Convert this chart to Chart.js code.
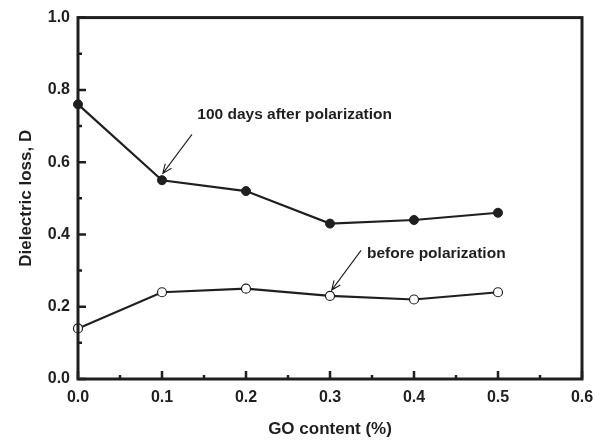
<!DOCTYPE html>
<html>
<head>
<meta charset="utf-8">
<script src="https://cdn.jsdelivr.net/npm/chart.js@4.4.1/dist/chart.umd.min.js"></script>
<style>
html,body{margin:0;padding:0;background:#fff;}
#wrap{width:606px;height:441px;}
</style>
</head>
<body>
<div id="wrap"><canvas id="c" width="606" height="441"></canvas></div>
<script>
const goContent = [0.0, 0.1, 0.2, 0.3, 0.4, 0.5];
const after100Days = [0.76, 0.55, 0.52, 0.43, 0.44, 0.46];
const beforePolarization = [0.14, 0.24, 0.25, 0.23, 0.22, 0.24];
const xMajorTicks = [0.0, 0.1, 0.2, 0.3, 0.4, 0.5, 0.6];
const xMinorTicks = [0.05, 0.15, 0.25, 0.35, 0.45, 0.55];
const yMajorTicks = [0.0, 0.2, 0.4, 0.6, 0.8, 1.0];
const yMinorTicks = [0.1, 0.3, 0.5, 0.7, 0.9];
const annotationTexts = ["100 days after polarization", "before polarization"];
const annotationAnchors = [[0.142, 0.732], [0.344, 0.348]];
const arrowFrom = [[0.1357, 0.677], [0.337, 0.356]];
const arrowTo = [[0.101, 0.569], [0.302, 0.246]];

const INK = '#1f1f1f';
const FONT = '"Liberation Sans", Arial, Helvetica, sans-serif';

const framePlugin = {
  id: 'frame',
  afterDatasetsDraw(chart) {
    const {ctx, chartArea: a, scales: {x, y}} = chart;
    ctx.save();
    ctx.strokeStyle = INK;
    ctx.lineWidth = 2.5;
    ctx.beginPath();
    xMajorTicks.forEach(v => { const px = x.getPixelForValue(v); ctx.moveTo(px, a.bottom); ctx.lineTo(px, a.bottom - 8); });
    xMinorTicks.forEach(v => { const px = x.getPixelForValue(v); ctx.moveTo(px, a.bottom); ctx.lineTo(px, a.bottom - 4); });
    yMajorTicks.forEach(v => { const py = y.getPixelForValue(v); ctx.moveTo(a.left, py); ctx.lineTo(a.left + 8, py); });
    yMinorTicks.forEach(v => { const py = y.getPixelForValue(v); ctx.moveTo(a.left, py); ctx.lineTo(a.left + 4, py); });
    ctx.stroke();
    ctx.lineWidth = 3;
    ctx.strokeRect(a.left, a.top, a.right - a.left, a.bottom - a.top);
    ctx.fillStyle = INK;
    ctx.font = 'bold 15.5px ' + FONT;
    ctx.textAlign = 'left';
    ctx.textBaseline = 'middle';
    annotationTexts.forEach((t, i) => {
      ctx.fillText(t, x.getPixelForValue(annotationAnchors[i][0]), y.getPixelForValue(annotationAnchors[i][1]));
    });
    ctx.lineWidth = 1.1;
    arrowFrom.forEach((f, i) => {
      const x1 = x.getPixelForValue(f[0]), y1 = y.getPixelForValue(f[1]);
      const x2 = x.getPixelForValue(arrowTo[i][0]), y2 = y.getPixelForValue(arrowTo[i][1]);
      const ang = Math.atan2(y2 - y1, x2 - x1);
      const hl = 10, ha = 0.4;
      ctx.beginPath();
      ctx.moveTo(x1, y1); ctx.lineTo(x2, y2);
      ctx.moveTo(x2 - hl * Math.cos(ang - ha), y2 - hl * Math.sin(ang - ha));
      ctx.lineTo(x2, y2);
      ctx.lineTo(x2 - hl * Math.cos(ang + ha), y2 - hl * Math.sin(ang + ha));
      ctx.stroke();
    });
    ctx.restore();
  }
};

new Chart(document.getElementById('c'), {
  type: 'line',
  data: {
    datasets: [
      {
        label: '100 days after polarization',
        data: goContent.map((g, i) => ({x: g, y: after100Days[i]})),
        borderColor: INK, borderWidth: 2.2,
        pointRadius: 4.5, pointBackgroundColor: INK, pointBorderColor: INK, pointBorderWidth: 1,
        tension: 0, clip: false
      },
      {
        label: 'before polarization',
        data: goContent.map((g, i) => ({x: g, y: beforePolarization[i]})),
        borderColor: INK, borderWidth: 2.2,
        pointRadius: 4.5, pointBackgroundColor: '#ffffff', pointBorderColor: INK, pointBorderWidth: 1.2,
        tension: 0, clip: false
      }
    ]
  },
  options: {
    responsive: false,
    animation: false,
    devicePixelRatio: 1,
    layout: {padding: {top: 17, right: 24, left: 0, bottom: 0}},
    plugins: {legend: {display: false}, tooltip: {enabled: false}},
    scales: {
      x: {
        type: 'linear', min: 0, max: 0.6,
        grid: {display: false, drawTicks: false, tickLength: 0},
        border: {display: false},
        afterFit(s) { s.height = 62; },
        ticks: {
          stepSize: 0.1, padding: 9, color: INK,
          font: {family: FONT, size: 16, weight: 'bold'},
          callback: v => Number(v).toFixed(1)
        },
        title: {display: true, text: 'GO content (%)', color: INK, padding: {top: 0, bottom: 1},
          font: {family: FONT, size: 17, weight: 'bold'}}
      },
      y: {
        type: 'linear', min: 0, max: 1.0,
        grid: {display: false, drawTicks: false, tickLength: 0},
        border: {display: false},
        afterFit(s) { s.width = 78; },
        ticks: {
          stepSize: 0.2, padding: 8, color: INK,
          font: {family: FONT, size: 16, weight: 'bold'},
          callback: v => Number(v).toFixed(1)
        },
        title: {display: true, text: 'Dielectric loss, D', color: INK, padding: {top: 16, bottom: 0},
          font: {family: FONT, size: 17, weight: 'bold'}}
      }
    }
  },
  plugins: [framePlugin]
});
</script>
</body>
</html>
